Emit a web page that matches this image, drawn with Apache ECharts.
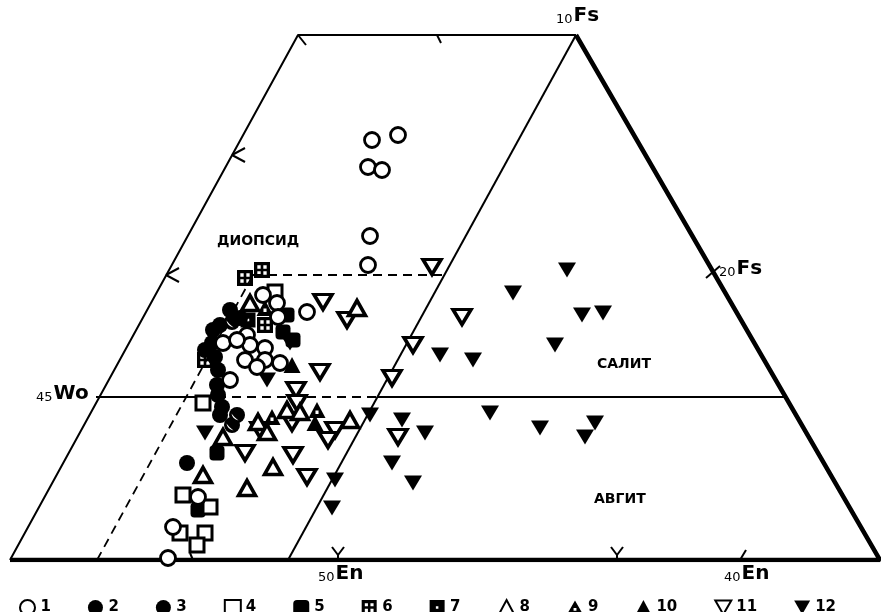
<!DOCTYPE html>
<html>
<head>
<meta charset="utf-8">
<script src="https://cdn.jsdelivr.net/npm/echarts@6/dist/echarts.min.js"></script>
<style>
  html, body { margin: 0; padding: 0; background: #fff; }
  #chart { width: 881px; height: 612px; }
</style>
</head>
<body>
<div id="chart"></div>
<script>
// Diagram units: x runs along the En–Fs base, y is height above the base line.
// Trapezoid outline of the pyroxene field
const outlineThin = [[0, 0], [288, 525], [566, 525]];
const outlineThick = [[566, 525], [870, 0], [0, 0]];
// Divider lines
const centralLine = [[278, 0], [566, 525]];
const wo45Left = [[86, 163], [177, 163]];
const wo45Mid = [[177, 163], [367, 163]];
const wo45Right = [[367, 163], [776, 163]];
const dashedSlant = [[87, 0], [243, 285]];
const dashedTop = [[243, 285], [434, 285]];

// Compositions by sample group (legend 1–12)
const g1 = [[362,420],[388,425],[358,393],[372,390],[360,324],[358,295],[297,248],[253,265],[267,257],[268,243],[237,225],[213,217],[240,215],[255,212],[227,220],[235,200],[255,200],[247,193],[220,180],[270,197],[188,63],[163,33],[158,2]];
const g2 = [[220,250],[210,235],[230,242],[203,230],[202,217],[195,210],[205,203],[208,190],[207,175],[208,165],[212,153],[210,145],[177,97]];
const g3 = [[222,238],[227,145],[222,135]];
const g4 = [[265,268],[193,157],[173,65],[200,53],[170,27],[195,27],[187,15]];
const g5 = [[277,245],[273,228],[283,220],[207,107],[188,50]];
const g6 = [[235,282],[252,290],[255,235],[195,200]];
const g7 = [[238,240]];
const g8 = [[240,257],[347,252],[248,138],[257,128],[277,150],[290,148],[340,140],[213,123],[193,85],[263,93],[237,72]];
const g9 = [[262,143],[307,150],[255,252]];
const g10 = [[305,137],[282,195]];
const g11 = [[313,258],[337,240],[310,188],[286,170],[250,130],[287,157],[282,137],[325,130],[318,120],[235,107],[283,105],[297,83],[422,293],[452,243],[403,215],[382,182],[388,123]];
const g12 = [[557,290],[503,267],[572,245],[593,247],[545,215],[430,205],[463,200],[360,145],[392,140],[415,127],[480,147],[530,132],[585,137],[575,123],[382,97],[403,77],[325,80],[322,52],[195,127],[257,180],[280,217]];

const legendNames = ['1','2','3','4','5','6','7','8','9','10','11','12'];

// Tick marks along the outline
const ticks = [
  [[288,525],[296,515]],
  [[427,525],[431,517]],
  [[222,405],[235,412]], [[222,405],[235,398]],
  [[156,285],[169,292]], [[156,285],[169,278]],
  [[696,282],[710,294]],
  [[328,0],[328,5]], [[328,5],[322,13]], [[328,5],[334,13]],
  [[607,0],[607,5]], [[607,5],[601,13]], [[607,5],[613,13]],
  [[730,0],[736,10]],
  [[180,7],[183,0]]
];

const TRI_DOWN = 'path://M0,0 L10,0 L5,8.6 Z';
const TRI_UP_DOT = 'path://M5,0 L10,8.6 L0,8.6 Z M4.1,4.6 L4.1,6.4 L5.9,6.4 L5.9,4.6 Z';
const SQ_DOTS = 'path://M0,0 L12,0 L12,12 L0,12 Z M2.5,2.5 L2.5,5 L5,5 L5,2.5 Z M7,2.5 L7,5 L9.5,5 L9.5,2.5 Z M2.5,7 L2.5,9.5 L5,9.5 L5,7 Z M7,7 L7,9.5 L9.5,9.5 L9.5,7 Z';
const SQ_DOT = 'path://M0,0 L12,0 L12,12 L0,12 Z M5,5 L5,7 L7,7 L7,5 Z';
const CRESCENT = 'path://M0,0 Q1,7 8,9 Q3,5 0,0 Z';

const black = '#000';
const lineSeries = (data, width, type) => ({
  type: 'line', data, symbol: 'none', silent: true, animation: false,
  lineStyle: { color: black, width, type: type || 'solid' }, z: 1
});

const open = (bw) => ({ color: '#fff', borderColor: black, borderWidth: bw, opacity: 1 });
const filled = { color: black, opacity: 1 };

const series = [
  lineSeries(outlineThin, 2),
  lineSeries(outlineThick, 4.5),
  lineSeries(centralLine, 2),
  lineSeries(wo45Left, 2),
  lineSeries(wo45Mid, 2, [9, 6]),
  lineSeries(wo45Right, 2),
  lineSeries(dashedSlant, 1.8, [9, 6]),
  lineSeries(dashedTop, 1.8, [9, 6]),
  ...ticks.map(t => lineSeries(t, 2)),
  { name: '12', type: 'scatter', data: g12, symbol: TRI_DOWN, symbolSize: [18, 15], itemStyle: filled, z: 3 },
  { name: '2', type: 'scatter', data: g2, symbol: 'circle', symbolSize: 16, itemStyle: filled, z: 3 },
  { name: '3', type: 'scatter', data: g3, symbol: 'circle', symbolSize: 16, itemStyle: filled, z: 3 },
  { name: '3-mark', type: 'scatter', data: g3, symbol: CRESCENT, symbolSize: [7, 7], symbolOffset: [-2, 2], itemStyle: { color: '#fff', opacity: 1 }, z: 4, silent: true },
  { name: '5', type: 'scatter', data: g5, symbol: 'roundRect', symbolSize: 15, itemStyle: filled, z: 3 },
  { name: '6', type: 'scatter', data: g6, symbol: SQ_DOTS, symbolSize: 16, itemStyle: filled, z: 3 },
  { name: '7', type: 'scatter', data: g7, symbol: SQ_DOT, symbolSize: 15, itemStyle: filled, z: 3 },
  { name: '10', type: 'scatter', data: g10, symbol: 'triangle', symbolSize: [17, 16], itemStyle: filled, z: 3 },
  { name: '9', type: 'scatter', data: g9, symbol: TRI_UP_DOT, symbolSize: [17, 16], itemStyle: filled, z: 3 },
  { name: '11', type: 'scatter', data: g11, symbol: TRI_DOWN, symbolSize: [18, 15], itemStyle: open(3.5), z: 5 },
  { name: '8', type: 'scatter', data: g8, symbol: 'triangle', symbolSize: [17, 15], itemStyle: open(3.5), z: 5 },
  { name: '4', type: 'scatter', data: g4, symbol: 'rect', symbolSize: 14, itemStyle: open(3), z: 5 },
  { name: '1', type: 'scatter', data: g1, symbol: 'circle', symbolSize: 15, itemStyle: open(2.8), z: 6 }
];

const FONT = 'DejaVu Sans';
const axisLabel = (left, top, num, sym) => ({
  type: 'text', left, top, z: 10,
  style: {
    text: `{n|${num}}{b|${sym}}`,
    rich: {
      n: { fontFamily: FONT, fontSize: 13, fill: black, verticalAlign: 'bottom', padding: [6, 1, 0, 0] },
      b: { fontFamily: FONT, fontSize: 20, fontWeight: 'bold', fill: black }
    }
  }
});
const fieldLabel = (left, top, text) => ({
  type: 'text', left, top, z: 10,
  style: { text, fontFamily: FONT, fontSize: 14, fontWeight: 'bold', fill: black }
});

const chart = echarts.init(document.getElementById('chart'), null, { renderer: 'canvas' });
chart.setOption({
  backgroundColor: '#fff',
  animation: false,
  grid: { left: 10, top: 35, width: 870, height: 525 },
  xAxis: { type: 'value', min: 0, max: 870, show: false },
  yAxis: { type: 'value', min: 0, max: 525, show: false },
  legend: {
    data: legendNames,
    left: 14, top: 594,
    itemWidth: 16, itemHeight: 15, itemGap: 37,
    textStyle: { fontFamily: FONT, fontSize: 15, fontWeight: 'bold', color: black },
    selectedMode: false
  },
  graphic: [
    axisLabel(556, 6, '10', 'Fs'),
    axisLabel(719, 259, '20', 'Fs'),
    axisLabel(36, 384, '45', 'Wo'),
    axisLabel(318, 564, '50', 'En'),
    axisLabel(724, 564, '40', 'En'),
    fieldLabel(217, 234, 'ДИОПСИД'),
    fieldLabel(597, 357, 'САЛИТ'),
    fieldLabel(594, 492, 'АВГИТ')
  ],
  series
});
</script>
</body>
</html>
